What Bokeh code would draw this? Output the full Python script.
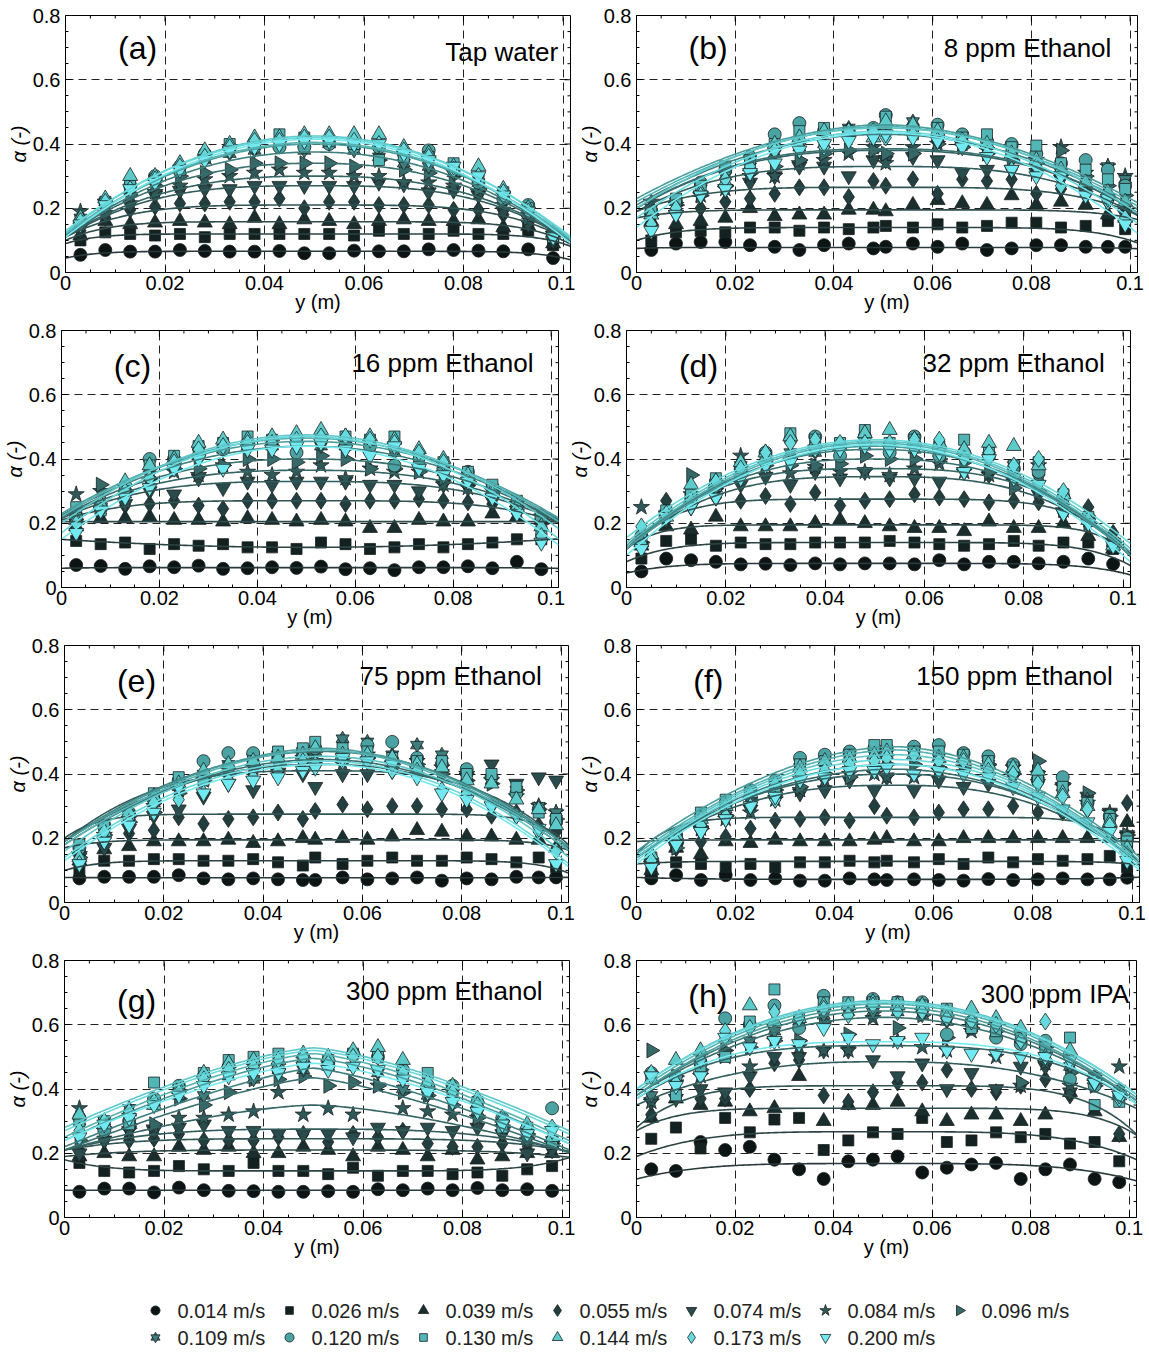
import numpy as np
from bokeh.plotting import figure
from bokeh.models import Range1d, FixedTicker, CustomJSTickFormatter, Label
from bokeh.core.properties import value
from bokeh.layouts import column, row
from bokeh.embed import file_html
from bokeh.resources import INLINE

FONT = "Liberation Sans"

# superficial liquid velocities (legend entries)
SPEEDS = ["0.014 m/s", "0.026 m/s", "0.039 m/s", "0.055 m/s", "0.074 m/s",
          "0.084 m/s", "0.096 m/s", "0.109 m/s", "0.120 m/s", "0.130 m/s",
          "0.144 m/s", "0.173 m/s", "0.200 m/s"]

# measurement positions across the column (m)
Y20 = [0.003, 0.008, 0.013, 0.018, 0.023, 0.028, 0.033, 0.038, 0.043, 0.048,
       0.053, 0.058, 0.063, 0.068, 0.073, 0.078, 0.083, 0.088, 0.093, 0.098]
Y21 = [0.003, 0.008, 0.013, 0.018, 0.023, 0.028, 0.033, 0.038, 0.043, 0.048,
       0.0505, 0.056, 0.061, 0.066, 0.071, 0.076, 0.081, 0.086, 0.091, 0.0955, 0.099]

# ---- (a) tap water: local gas holdup, one row per velocity ----
TAP_ALPHA = [
    [0.055, 0.07, 0.065, 0.065, 0.07, 0.067, 0.065, 0.065, 0.067, 0.06, 0.06, 0.068, 0.066, 0.066, 0.072, 0.07, 0.068, 0.066, 0.072, 0.045],
    [0.10, 0.125, 0.12, 0.115, 0.12, 0.11, 0.12, 0.12, 0.12, 0.12, 0.12, 0.115, 0.13, 0.12, 0.12, 0.13, 0.12, 0.12, 0.13, 0.085],
    [0.115, 0.16, 0.15, 0.155, 0.16, 0.155, 0.15, 0.17, 0.15, 0.165, 0.16, 0.15, 0.16, 0.165, 0.16, 0.16, 0.165, 0.14, 0.145, 0.09],
    [0.13, 0.17, 0.195, 0.205, 0.215, 0.215, 0.22, 0.22, 0.23, 0.20, 0.22, 0.22, 0.21, 0.21, 0.21, 0.195, 0.195, 0.18, 0.15, 0.10],
    [0.14, 0.18, 0.21, 0.24, 0.255, 0.26, 0.26, 0.27, 0.27, 0.27, 0.27, 0.27, 0.28, 0.275, 0.25, 0.255, 0.24, 0.19, 0.15, 0.10],
    [0.19, 0.22, 0.24, 0.25, 0.27, 0.29, 0.30, 0.31, 0.32, 0.31, 0.31, 0.30, 0.30, 0.28, 0.28, 0.27, 0.25, 0.21, 0.17, 0.12],
    [0.15, 0.21, 0.24, 0.27, 0.30, 0.31, 0.32, 0.34, 0.34, 0.34, 0.34, 0.33, 0.35, 0.32, 0.31, 0.30, 0.26, 0.22, 0.17, 0.12],
    [0.17, 0.22, 0.26, 0.29, 0.32, 0.35, 0.37, 0.38, 0.40, 0.38, 0.40, 0.38, 0.36, 0.34, 0.33, 0.31, 0.28, 0.24, 0.18, 0.12],
    [0.15, 0.22, 0.27, 0.30, 0.33, 0.37, 0.39, 0.39, 0.39, 0.39, 0.40, 0.39, 0.39, 0.37, 0.38, 0.32, 0.28, 0.23, 0.21, 0.12],
    [0.16, 0.22, 0.27, 0.29, 0.32, 0.36, 0.40, 0.40, 0.43, 0.42, 0.41, 0.40, 0.35, 0.36, 0.36, 0.34, 0.29, 0.25, 0.20, 0.11],
    [0.17, 0.23, 0.30, 0.30, 0.34, 0.38, 0.40, 0.42, 0.42, 0.43, 0.43, 0.43, 0.43, 0.39, 0.37, 0.33, 0.33, 0.26, 0.20, 0.12],
    [0.16, 0.22, 0.26, 0.29, 0.33, 0.36, 0.39, 0.41, 0.41, 0.42, 0.42, 0.41, 0.40, 0.38, 0.36, 0.32, 0.30, 0.25, 0.19, 0.11],
    [0.15, 0.21, 0.26, 0.28, 0.32, 0.35, 0.38, 0.39, 0.40, 0.41, 0.41, 0.40, 0.40, 0.37, 0.35, 0.33, 0.30, 0.24, 0.19, 0.11],
]
TAP_CENTRE = [0.066, 0.12, 0.158, 0.21, 0.27, 0.30, 0.34, 0.375, 0.40, 0.405, 0.425, 0.42, 0.415]
TAP_WALL = [0.045, 0.09, 0.10, 0.11, 0.11, 0.115, 0.115, 0.115, 0.12, 0.12, 0.125, 0.13, 0.11]
TAP_EXP = [8, 8, 6, 4, 3, 2.5, 2.3, 2.1, 2, 2, 2, 2, 2]

# ---- (b) 8 ppm ethanol ----
E8_ALPHA = [
    [0.07, 0.09, 0.095, 0.095, 0.085, 0.08, 0.07, 0.085, 0.09, 0.075, 0.08, 0.09, 0.08, 0.09, 0.07, 0.075, 0.085, 0.085, 0.08, 0.08, 0.08],
    [0.10, 0.125, 0.13, 0.125, 0.14, 0.14, 0.13, 0.14, 0.135, 0.14, 0.145, 0.14, 0.15, 0.14, 0.145, 0.155, 0.155, 0.14, 0.145, 0.16, 0.135],
    [0.16, 0.15, 0.16, 0.17, 0.20, 0.175, 0.18, 0.18, 0.195, 0.195, 0.19, 0.21, 0.225, 0.215, 0.21, 0.24, 0.21, 0.22, 0.21, 0.18, 0.17],
    [0.18, 0.19, 0.20, 0.22, 0.23, 0.245, 0.265, 0.265, 0.235, 0.285, 0.27, 0.29, 0.245, 0.29, 0.285, 0.29, 0.245, 0.26, 0.25, 0.22, 0.20],
    [0.17, 0.18, 0.24, 0.26, 0.28, 0.30, 0.33, 0.33, 0.30, 0.35, 0.35, 0.36, 0.35, 0.31, 0.32, 0.32, 0.31, 0.29, 0.25, 0.22, 0.18],
    [0.22, 0.21, 0.24, 0.26, 0.30, 0.30, 0.34, 0.35, 0.37, 0.39, 0.34, 0.39, 0.40, 0.40, 0.38, 0.37, 0.35, 0.39, 0.31, 0.33, 0.30],
    [0.18, 0.21, 0.24, 0.27, 0.31, 0.33, 0.35, 0.37, 0.38, 0.38, 0.37, 0.37, 0.40, 0.39, 0.37, 0.35, 0.34, 0.38, 0.30, 0.27, 0.24],
    [0.20, 0.22, 0.26, 0.30, 0.35, 0.37, 0.39, 0.40, 0.45, 0.42, 0.44, 0.47, 0.42, 0.41, 0.40, 0.38, 0.36, 0.31, 0.28, 0.33, 0.29],
    [0.19, 0.22, 0.28, 0.32, 0.36, 0.43, 0.465, 0.44, 0.44, 0.45, 0.49, 0.45, 0.46, 0.43, 0.41, 0.40, 0.37, 0.34, 0.35, 0.32, 0.27],
    [0.19, 0.23, 0.27, 0.33, 0.35, 0.40, 0.44, 0.45, 0.44, 0.44, 0.485, 0.43, 0.45, 0.42, 0.43, 0.39, 0.395, 0.34, 0.32, 0.29, 0.26],
    [0.18, 0.20, 0.25, 0.28, 0.33, 0.40, 0.42, 0.44, 0.44, 0.42, 0.47, 0.46, 0.44, 0.41, 0.40, 0.37, 0.35, 0.32, 0.28, 0.25, 0.22],
    [0.15, 0.20, 0.24, 0.29, 0.33, 0.38, 0.39, 0.39, 0.44, 0.44, 0.42, 0.43, 0.41, 0.41, 0.37, 0.32, 0.33, 0.27, 0.24, 0.22, 0.17],
    [0.13, 0.18, 0.24, 0.26, 0.31, 0.34, 0.38, 0.40, 0.41, 0.42, 0.43, 0.42, 0.41, 0.39, 0.36, 0.32, 0.30, 0.30, 0.24, 0.23, 0.15],
]
E8_CENTRE = [0.078, 0.14, 0.195, 0.265, 0.33, 0.38, 0.385, 0.43, 0.46, 0.455, 0.45, 0.44, 0.435]
E8_WALL = [0.075, 0.10, 0.17, 0.19, 0.19, 0.20, 0.20, 0.21, 0.23, 0.22, 0.20, 0.17, 0.14]
E8_EXP = [10, 6, 6, 4, 3, 2.5, 2.5, 2, 1.8, 1.8, 2, 2, 2]

# ---- (c) 16 ppm ethanol ----
E16_ALPHA = [
    [0.07, 0.067, 0.058, 0.066, 0.063, 0.068, 0.058, 0.06, 0.063, 0.061, 0.065, 0.057, 0.06, 0.054, 0.063, 0.063, 0.066, 0.06, 0.08, 0.057],
    [0.145, 0.135, 0.14, 0.12, 0.135, 0.13, 0.135, 0.125, 0.125, 0.12, 0.14, 0.135, 0.12, 0.125, 0.135, 0.125, 0.135, 0.14, 0.15, 0.15],
    [0.19, 0.215, 0.215, 0.22, 0.21, 0.21, 0.205, 0.215, 0.21, 0.205, 0.21, 0.205, 0.185, 0.185, 0.21, 0.205, 0.205, 0.23, 0.22, 0.21],
    [0.21, 0.23, 0.255, 0.26, 0.27, 0.255, 0.245, 0.27, 0.27, 0.27, 0.27, 0.26, 0.27, 0.27, 0.275, 0.27, 0.265, 0.26, 0.24, 0.22],
    [0.20, 0.24, 0.26, 0.30, 0.29, 0.34, 0.31, 0.33, 0.32, 0.33, 0.33, 0.33, 0.32, 0.32, 0.30, 0.32, 0.31, 0.27, 0.24, 0.20],
    [0.29, 0.30, 0.31, 0.33, 0.36, 0.35, 0.38, 0.36, 0.35, 0.36, 0.38, 0.34, 0.37, 0.36, 0.36, 0.32, 0.31, 0.30, 0.26, 0.22],
    [0.20, 0.32, 0.30, 0.34, 0.37, 0.37, 0.38, 0.40, 0.40, 0.39, 0.41, 0.40, 0.37, 0.37, 0.36, 0.34, 0.33, 0.30, 0.27, 0.21],
    [0.22, 0.25, 0.29, 0.35, 0.39, 0.42, 0.43, 0.44, 0.44, 0.45, 0.44, 0.44, 0.43, 0.42, 0.41, 0.36, 0.34, 0.31, 0.25, 0.22],
    [0.22, 0.26, 0.30, 0.40, 0.40, 0.41, 0.43, 0.45, 0.44, 0.42, 0.46, 0.44, 0.44, 0.38, 0.38, 0.37, 0.36, 0.31, 0.26, 0.22],
    [0.25, 0.24, 0.31, 0.38, 0.41, 0.44, 0.45, 0.47, 0.46, 0.46, 0.47, 0.47, 0.46, 0.47, 0.41, 0.39, 0.36, 0.32, 0.27, 0.18],
    [0.21, 0.26, 0.33, 0.38, 0.40, 0.45, 0.46, 0.46, 0.47, 0.48, 0.49, 0.47, 0.47, 0.46, 0.43, 0.40, 0.35, 0.30, 0.25, 0.19],
    [0.20, 0.24, 0.30, 0.34, 0.39, 0.43, 0.44, 0.45, 0.45, 0.46, 0.47, 0.47, 0.46, 0.45, 0.42, 0.39, 0.33, 0.29, 0.23, 0.16],
    [0.17, 0.24, 0.28, 0.31, 0.37, 0.40, 0.37, 0.43, 0.43, 0.44, 0.45, 0.43, 0.41, 0.44, 0.37, 0.35, 0.33, 0.28, 0.23, 0.14],
]
E16_CENTRE = [0.062, 0.125, 0.205, 0.27, 0.33, 0.365, 0.40, 0.44, 0.455, 0.465, 0.475, 0.47, 0.44]
E16_WALL = [0.06, 0.15, 0.205, 0.21, 0.215, 0.22, 0.22, 0.225, 0.23, 0.22, 0.20, 0.17, 0.15]
E16_EXP = [8, 2, 4, 4, 3, 2.5, 2.3, 2, 2, 2, 2, 2, 2]

# ---- (d) 32 ppm ethanol ----
E32_ALPHA = [
    [0.05, 0.09, 0.085, 0.08, 0.072, 0.074, 0.07, 0.075, 0.072, 0.075, 0.075, 0.072, 0.085, 0.072, 0.08, 0.08, 0.075, 0.08, 0.09, 0.073],
    [0.09, 0.145, 0.15, 0.13, 0.14, 0.135, 0.135, 0.14, 0.14, 0.14, 0.145, 0.14, 0.135, 0.13, 0.135, 0.145, 0.13, 0.14, 0.14, 0.12],
    [0.13, 0.19, 0.18, 0.22, 0.19, 0.19, 0.19, 0.20, 0.21, 0.20, 0.19, 0.185, 0.185, 0.175, 0.205, 0.185, 0.185, 0.20, 0.16, 0.12],
    [0.16, 0.27, 0.26, 0.28, 0.27, 0.285, 0.26, 0.295, 0.255, 0.27, 0.275, 0.29, 0.28, 0.275, 0.265, 0.27, 0.265, 0.23, 0.25, 0.17],
    [0.13, 0.21, 0.25, 0.30, 0.32, 0.345, 0.32, 0.36, 0.34, 0.36, 0.34, 0.34, 0.33, 0.36, 0.35, 0.33, 0.29, 0.23, 0.21, 0.14],
    [0.25, 0.23, 0.29, 0.30, 0.41, 0.38, 0.355, 0.375, 0.36, 0.36, 0.35, 0.37, 0.385, 0.36, 0.35, 0.33, 0.38, 0.24, 0.21, 0.14],
    [0.14, 0.22, 0.35, 0.33, 0.36, 0.38, 0.38, 0.38, 0.385, 0.41, 0.40, 0.40, 0.40, 0.39, 0.36, 0.31, 0.30, 0.24, 0.20, 0.14],
    [0.15, 0.23, 0.28, 0.31, 0.38, 0.40, 0.42, 0.42, 0.44, 0.44, 0.44, 0.43, 0.42, 0.41, 0.41, 0.38, 0.34, 0.27, 0.21, 0.14],
    [0.16, 0.22, 0.28, 0.33, 0.37, 0.42, 0.46, 0.47, 0.41, 0.47, 0.42, 0.47, 0.41, 0.42, 0.41, 0.37, 0.36, 0.28, 0.22, 0.13],
    [0.15, 0.24, 0.29, 0.34, 0.37, 0.41, 0.48, 0.46, 0.45, 0.49, 0.45, 0.46, 0.44, 0.46, 0.42, 0.38, 0.39, 0.29, 0.22, 0.14],
    [0.14, 0.22, 0.32, 0.33, 0.39, 0.42, 0.47, 0.45, 0.44, 0.48, 0.49, 0.46, 0.45, 0.43, 0.45, 0.44, 0.38, 0.29, 0.21, 0.13],
    [0.19, 0.23, 0.27, 0.33, 0.37, 0.42, 0.45, 0.46, 0.45, 0.45, 0.45, 0.46, 0.46, 0.40, 0.42, 0.38, 0.40, 0.30, 0.21, 0.14],
    [0.12, 0.22, 0.25, 0.28, 0.34, 0.38, 0.39, 0.43, 0.43, 0.44, 0.43, 0.43, 0.42, 0.36, 0.40, 0.34, 0.32, 0.23, 0.20, 0.13],
]
E32_CENTRE = [0.075, 0.14, 0.195, 0.275, 0.345, 0.37, 0.40, 0.43, 0.44, 0.45, 0.455, 0.46, 0.445]
E32_WALL = [0.045, 0.08, 0.12, 0.13, 0.12, 0.12, 0.12, 0.12, 0.12, 0.13, 0.14, 0.155, 0.10]
E32_EXP = [6, 6, 8, 5, 3, 3, 2.5, 2.2, 2, 2, 2, 2, 2]

# ---- (e) 75 ppm ethanol ----
E75_ALPHA = [
    [0.075, 0.08, 0.08, 0.08, 0.085, 0.075, 0.072, 0.075, 0.072, 0.07, 0.07, 0.078, 0.072, 0.075, 0.078, 0.068, 0.075, 0.072, 0.08, 0.078, 0.078],
    [0.10, 0.13, 0.13, 0.135, 0.135, 0.13, 0.13, 0.135, 0.125, 0.115, 0.14, 0.12, 0.13, 0.14, 0.13, 0.13, 0.14, 0.135, 0.125, 0.14, 0.11],
    [0.13, 0.165, 0.175, 0.19, 0.19, 0.19, 0.195, 0.185, 0.19, 0.20, 0.195, 0.20, 0.195, 0.205, 0.225, 0.22, 0.205, 0.205, 0.195, 0.195, 0.17],
    [0.13, 0.23, 0.215, 0.225, 0.265, 0.245, 0.26, 0.265, 0.28, 0.26, 0.285, 0.305, 0.29, 0.30, 0.30, 0.29, 0.29, 0.27, 0.28, 0.24, 0.22],
    [0.14, 0.17, 0.23, 0.27, 0.29, 0.33, 0.37, 0.35, 0.40, 0.40, 0.36, 0.40, 0.40, 0.41, 0.41, 0.40, 0.39, 0.43, 0.37, 0.39, 0.38],
    [0.15, 0.21, 0.26, 0.30, 0.35, 0.38, 0.39, 0.42, 0.41, 0.45, 0.44, 0.43, 0.46, 0.43, 0.44, 0.42, 0.40, 0.38, 0.33, 0.30, 0.28],
    [0.14, 0.21, 0.25, 0.28, 0.34, 0.38, 0.40, 0.42, 0.43, 0.44, 0.44, 0.45, 0.45, 0.43, 0.43, 0.40, 0.38, 0.37, 0.35, 0.29, 0.26],
    [0.17, 0.22, 0.27, 0.31, 0.36, 0.40, 0.43, 0.45, 0.46, 0.47, 0.47, 0.51, 0.50, 0.46, 0.49, 0.46, 0.39, 0.38, 0.35, 0.30, 0.28],
    [0.17, 0.24, 0.28, 0.32, 0.38, 0.44, 0.465, 0.465, 0.46, 0.47, 0.48, 0.47, 0.49, 0.50, 0.45, 0.43, 0.415, 0.39, 0.34, 0.29, 0.25],
    [0.18, 0.24, 0.27, 0.34, 0.39, 0.38, 0.42, 0.44, 0.47, 0.48, 0.50, 0.48, 0.47, 0.45, 0.44, 0.44, 0.40, 0.40, 0.36, 0.28, 0.26],
    [0.14, 0.22, 0.28, 0.33, 0.37, 0.41, 0.43, 0.44, 0.45, 0.46, 0.48, 0.46, 0.46, 0.45, 0.43, 0.42, 0.38, 0.37, 0.32, 0.29, 0.24],
    [0.12, 0.22, 0.25, 0.31, 0.32, 0.34, 0.38, 0.39, 0.41, 0.44, 0.43, 0.44, 0.44, 0.41, 0.41, 0.35, 0.34, 0.30, 0.27, 0.22, 0.16],
    [0.12, 0.19, 0.24, 0.28, 0.36, 0.34, 0.37, 0.38, 0.39, 0.41, 0.42, 0.45, 0.44, 0.43, 0.39, 0.34, 0.32, 0.30, 0.27, 0.23, 0.12],
]
E75_CENTRE = [0.077, 0.13, 0.195, 0.275, 0.41, 0.43, 0.445, 0.47, 0.48, 0.475, 0.455, 0.44, 0.43]
E75_WALL = [0.078, 0.10, 0.17, 0.20, 0.19, 0.19, 0.18, 0.19, 0.19, 0.18, 0.16, 0.14, 0.13]
E75_EXP = [8, 8, 8, 8, 3, 2.2, 2, 2, 1.8, 1.8, 2, 2, 2]

# ---- (f) 150 ppm ethanol ----
E150_ALPHA = [
    [0.075, 0.085, 0.07, 0.085, 0.07, 0.075, 0.068, 0.068, 0.075, 0.072, 0.07, 0.072, 0.07, 0.068, 0.073, 0.07, 0.072, 0.075, 0.072, 0.072, 0.077],
    [0.09, 0.125, 0.12, 0.11, 0.12, 0.11, 0.125, 0.125, 0.13, 0.125, 0.13, 0.125, 0.135, 0.12, 0.14, 0.125, 0.135, 0.13, 0.135, 0.145, 0.11],
    [0.10, 0.17, 0.15, 0.19, 0.185, 0.195, 0.19, 0.19, 0.19, 0.195, 0.20, 0.19, 0.19, 0.20, 0.20, 0.20, 0.20, 0.20, 0.20, 0.20, 0.25],
    [0.11, 0.17, 0.19, 0.205, 0.23, 0.255, 0.26, 0.265, 0.255, 0.30, 0.27, 0.265, 0.28, 0.29, 0.29, 0.30, 0.28, 0.28, 0.29, 0.27, 0.31],
    [0.12, 0.17, 0.22, 0.26, 0.29, 0.32, 0.34, 0.35, 0.38, 0.35, 0.39, 0.35, 0.38, 0.36, 0.37, 0.39, 0.37, 0.36, 0.33, 0.28, 0.21],
    [0.12, 0.18, 0.23, 0.26, 0.28, 0.32, 0.35, 0.38, 0.40, 0.40, 0.39, 0.39, 0.41, 0.42, 0.42, 0.42, 0.40, 0.36, 0.31, 0.28, 0.21],
    [0.12, 0.17, 0.23, 0.27, 0.32, 0.35, 0.36, 0.40, 0.39, 0.42, 0.43, 0.43, 0.42, 0.42, 0.43, 0.40, 0.44, 0.37, 0.34, 0.27, 0.21],
    [0.13, 0.19, 0.25, 0.29, 0.32, 0.36, 0.42, 0.44, 0.45, 0.46, 0.46, 0.46, 0.45, 0.45, 0.43, 0.42, 0.40, 0.36, 0.32, 0.25, 0.20],
    [0.13, 0.21, 0.27, 0.31, 0.35, 0.38, 0.45, 0.46, 0.47, 0.48, 0.48, 0.485, 0.49, 0.465, 0.455, 0.43, 0.38, 0.39, 0.31, 0.27, 0.20],
    [0.14, 0.21, 0.28, 0.32, 0.34, 0.36, 0.43, 0.44, 0.46, 0.49, 0.49, 0.47, 0.47, 0.46, 0.44, 0.42, 0.39, 0.36, 0.31, 0.26, 0.19],
    [0.15, 0.21, 0.26, 0.30, 0.34, 0.37, 0.42, 0.44, 0.45, 0.46, 0.47, 0.46, 0.45, 0.45, 0.43, 0.42, 0.41, 0.34, 0.30, 0.25, 0.17],
    [0.13, 0.19, 0.24, 0.27, 0.30, 0.32, 0.40, 0.41, 0.43, 0.44, 0.45, 0.46, 0.44, 0.44, 0.41, 0.40, 0.37, 0.33, 0.29, 0.24, 0.15],
    [0.11, 0.18, 0.22, 0.26, 0.30, 0.33, 0.38, 0.39, 0.41, 0.41, 0.42, 0.40, 0.41, 0.40, 0.39, 0.36, 0.33, 0.29, 0.25, 0.22, 0.13],
]
E150_CENTRE = [0.072, 0.128, 0.195, 0.265, 0.365, 0.40, 0.415, 0.43, 0.485, 0.475, 0.46, 0.445, 0.43]
E150_WALL = [0.078, 0.12, 0.19, 0.15, 0.14, 0.14, 0.14, 0.14, 0.16, 0.15, 0.14, 0.13, 0.12]
E150_EXP = [4, 8, 8, 8, 2.5, 2.2, 2, 2, 1.8, 1.8, 1.9, 2, 2]

# ---- (g) 300 ppm ethanol ----
E300_ALPHA = [
    [0.08, 0.09, 0.09, 0.078, 0.093, 0.085, 0.083, 0.082, 0.08, 0.08, 0.082, 0.08, 0.088, 0.085, 0.09, 0.085, 0.092, 0.085, 0.088, 0.083],
    [0.17, 0.145, 0.14, 0.145, 0.16, 0.15, 0.145, 0.17, 0.145, 0.145, 0.135, 0.155, 0.13, 0.145, 0.145, 0.135, 0.14, 0.13, 0.15, 0.16],
    [0.19, 0.20, 0.19, 0.19, 0.22, 0.21, 0.22, 0.20, 0.20, 0.22, 0.21, 0.19, 0.22, 0.21, 0.19, 0.21, 0.18, 0.19, 0.20, 0.20],
    [0.21, 0.24, 0.24, 0.245, 0.26, 0.24, 0.24, 0.24, 0.25, 0.26, 0.235, 0.26, 0.25, 0.27, 0.23, 0.22, 0.22, 0.23, 0.21, 0.22],
    [0.20, 0.24, 0.27, 0.27, 0.28, 0.29, 0.27, 0.27, 0.26, 0.26, 0.26, 0.25, 0.28, 0.27, 0.28, 0.27, 0.28, 0.26, 0.20, 0.21],
    [0.34, 0.27, 0.27, 0.28, 0.31, 0.31, 0.32, 0.33, 0.39, 0.32, 0.34, 0.32, 0.41, 0.34, 0.33, 0.32, 0.31, 0.28, 0.24, 0.23],
    [0.24, 0.28, 0.29, 0.29, 0.37, 0.35, 0.39, 0.43, 0.43, 0.44, 0.41, 0.42, 0.41, 0.39, 0.38, 0.35, 0.31, 0.28, 0.26, 0.23],
    [0.30, 0.30, 0.34, 0.36, 0.38, 0.38, 0.44, 0.43, 0.46, 0.46, 0.47, 0.47, 0.45, 0.40, 0.38, 0.40, 0.33, 0.30, 0.24, 0.24],
    [0.31, 0.27, 0.30, 0.37, 0.41, 0.44, 0.47, 0.48, 0.46, 0.48, 0.48, 0.51, 0.50, 0.46, 0.41, 0.41, 0.34, 0.31, 0.27, 0.34],
    [0.30, 0.30, 0.29, 0.42, 0.40, 0.45, 0.49, 0.50, 0.51, 0.49, 0.49, 0.51, 0.50, 0.44, 0.45, 0.39, 0.36, 0.28, 0.28, 0.23],
    [0.32, 0.29, 0.33, 0.35, 0.40, 0.45, 0.48, 0.49, 0.49, 0.51, 0.50, 0.52, 0.53, 0.49, 0.42, 0.41, 0.37, 0.31, 0.29, 0.25],
    [0.27, 0.30, 0.33, 0.36, 0.39, 0.43, 0.46, 0.47, 0.49, 0.50, 0.48, 0.50, 0.50, 0.45, 0.42, 0.39, 0.35, 0.30, 0.27, 0.28],
    [0.25, 0.29, 0.31, 0.35, 0.38, 0.41, 0.44, 0.45, 0.45, 0.47, 0.46, 0.47, 0.46, 0.43, 0.39, 0.36, 0.33, 0.29, 0.26, 0.27],
]
E300_CENTRE = [0.085, 0.145, 0.21, 0.245, 0.275, 0.35, 0.435, 0.465, 0.495, 0.51, 0.528, 0.52, 0.48]
E300_WALL = [0.085, 0.18, 0.19, 0.21, 0.21, 0.21, 0.21, 0.22, 0.24, 0.25, 0.28, 0.27, 0.24]
E300_EXP = [8, 6, 4, 4, 3, 1.5, 1.3, 1.3, 1.4, 1.4, 1.4, 1.4, 1.4]

# ---- (h) 300 ppm IPA ----
IPA_ALPHA = [
    [0.15, 0.145, 0.235, 0.21, 0.22, 0.18, 0.15, 0.12, 0.175, 0.18, 0.19, 0.14, 0.155, 0.165, 0.17, 0.12, 0.15, 0.165, 0.12, 0.11],
    [0.245, 0.28, 0.215, 0.31, 0.265, 0.305, 0.31, 0.21, 0.24, 0.265, 0.26, 0.31, 0.235, 0.24, 0.265, 0.25, 0.26, 0.23, 0.235, 0.175],
    [0.31, 0.37, 0.35, 0.36, 0.33, 0.34, 0.44, 0.30, 0.35, 0.35, 0.36, 0.33, 0.30, 0.32, 0.32, 0.30, 0.32, 0.39, 0.33, 0.25],
    [0.32, 0.38, 0.37, 0.37, 0.40, 0.48, 0.49, 0.38, 0.36, 0.39, 0.42, 0.42, 0.46, 0.40, 0.39, 0.41, 0.43, 0.38, 0.43, 0.26],
    [0.36, 0.37, 0.40, 0.39, 0.44, 0.50, 0.50, 0.52, 0.52, 0.49, 0.44, 0.48, 0.40, 0.45, 0.40, 0.47, 0.47, 0.39, 0.43, 0.38],
    [0.36, 0.42, 0.44, 0.50, 0.47, 0.55, 0.53, 0.52, 0.52, 0.62, 0.55, 0.53, 0.52, 0.58, 0.50, 0.41, 0.48, 0.41, 0.42, 0.47],
    [0.52, 0.44, 0.46, 0.52, 0.53, 0.55, 0.55, 0.61, 0.57, 0.64, 0.59, 0.63, 0.56, 0.59, 0.58, 0.42, 0.53, 0.45, 0.41, 0.38],
    [0.38, 0.43, 0.50, 0.51, 0.55, 0.58, 0.60, 0.63, 0.64, 0.64, 0.64, 0.63, 0.61, 0.59, 0.57, 0.56, 0.52, 0.47, 0.44, 0.40],
    [0.45, 0.44, 0.48, 0.62, 0.60, 0.66, 0.59, 0.69, 0.66, 0.68, 0.67, 0.67, 0.57, 0.61, 0.56, 0.54, 0.55, 0.43, 0.41, 0.38],
    [0.44, 0.38, 0.47, 0.50, 0.61, 0.71, 0.62, 0.67, 0.67, 0.67, 0.67, 0.66, 0.65, 0.59, 0.58, 0.56, 0.53, 0.56, 0.35, 0.36],
    [0.43, 0.49, 0.52, 0.56, 0.66, 0.61, 0.62, 0.66, 0.66, 0.67, 0.66, 0.66, 0.64, 0.65, 0.62, 0.59, 0.50, 0.52, 0.43, 0.38],
    [0.45, 0.42, 0.49, 0.58, 0.59, 0.64, 0.62, 0.65, 0.63, 0.66, 0.64, 0.64, 0.62, 0.61, 0.60, 0.55, 0.61, 0.48, 0.42, 0.37],
    [0.44, 0.41, 0.44, 0.56, 0.53, 0.55, 0.54, 0.59, 0.56, 0.54, 0.55, 0.56, 0.52, 0.51, 0.51, 0.50, 0.50, 0.49, 0.42, 0.38],
]
IPA_CENTRE = [0.168, 0.267, 0.34, 0.41, 0.485, 0.535, 0.623, 0.643, 0.655, 0.665, 0.675, 0.67, 0.547]
IPA_WALL = [0.12, 0.19, 0.27, 0.28, 0.35, 0.37, 0.38, 0.38, 0.38, 0.39, 0.40, 0.40, 0.37]
IPA_EXP = [4, 4, 6, 5, 2.5, 3, 2, 2, 2, 2, 2, 2, 3]

PANELS = [
    dict(tag="(a)", name="Tap water", y=Y20, alpha=TAP_ALPHA, centre=TAP_CENTRE, wall=TAP_WALL, expo=TAP_EXP, peak=0.05),
    dict(tag="(b)", name="8 ppm Ethanol", y=Y21, alpha=E8_ALPHA, centre=E8_CENTRE, wall=E8_WALL, expo=E8_EXP, peak=0.05),
    dict(tag="(c)", name="16 ppm Ethanol", y=Y20, alpha=E16_ALPHA, centre=E16_CENTRE, wall=E16_WALL, expo=E16_EXP, peak=0.05),
    dict(tag="(d)", name="32 ppm Ethanol", y=Y20, alpha=E32_ALPHA, centre=E32_CENTRE, wall=E32_WALL, expo=E32_EXP, peak=0.05),
    dict(tag="(e)", name="75 ppm Ethanol", y=Y21, alpha=E75_ALPHA, centre=E75_CENTRE, wall=E75_WALL, expo=E75_EXP, peak=0.052),
    dict(tag="(f)", name="150 ppm Ethanol", y=Y21, alpha=E150_ALPHA, centre=E150_CENTRE, wall=E150_WALL, expo=E150_EXP, peak=0.052),
    dict(tag="(g)", name="300 ppm Ethanol", y=Y20, alpha=E300_ALPHA, centre=E300_CENTRE, wall=E300_WALL, expo=E300_EXP, peak=0.05),
    dict(tag="(h)", name="300 ppm IPA", y=Y20, alpha=IPA_ALPHA, centre=IPA_CENTRE, wall=IPA_WALL, expo=IPA_EXP, peak=0.05),
]

# page geometry of each panel: figure width, left border, right border,
# and placement of the panel tag / name (data units)
BOX = [
    dict(w=575, bl=65, br=5, name_x=0.099, name_y=0.685, tag_y=0.698),
    dict(w=574, bl=58, br=12, name_x=0.0962, name_y=0.70, tag_y=0.698),
    dict(w=565, bl=60, br=7, name_x=0.0964, name_y=0.70, tag_y=0.69),
    dict(w=584, bl=58, br=19, name_x=0.0963, name_y=0.70, tag_y=0.69),
    dict(w=575, bl=64, br=7, name_x=0.0961, name_y=0.704, tag_y=0.69),
    dict(w=574, bl=58, br=10, name_x=0.0961, name_y=0.704, tag_y=0.69),
    dict(w=575, bl=64, br=6, name_x=0.0961, name_y=0.704, tag_y=0.675),
    dict(w=574, bl=57, br=13, name_x=0.1, name_y=0.695, tag_y=0.69),
]

# marker styling per velocity
MARKERS = ["circle", "square", "triangle", "diamond", "inverted_triangle", "star",
           "triangle_right", "hexagram", "circle", "square", "triangle", "diamond",
           "inverted_triangle"]
SIZES = [13, 11, 15, 17, 15, 17, 15, 13, 13, 11, 15, 17, 15]
FILLS = ["#0c1414", "#132121", "#1a2e2e", "#223e3e", "#294b4b", "#2f5858", "#366868",
         "#3f7c7c", "#4aa2a2", "#53b6b6", "#5dcaca", "#67dadd", "#70e9f0"]
LINES = ["#2a3a3a", "#2d4343", "#2f4b4b", "#305353", "#325b5b", "#356464", "#396f6f",
         "#3f7f7f", "#4a9d9d", "#54b3b3", "#5ec7c9", "#68d9dc", "#74eaf0"]
EDGE = "#1a2222"

X_MAX = 0.1015
Y_MAX = 0.8
FRAME_H = 258
CURVE_Y = np.linspace(0.0, X_MAX, 240)


def profile(yv, centre, wall, n, peak):
    """Fitted holdup profile: flat/peaked core decaying toward the walls."""
    eta = np.where(yv < peak, (peak - yv) / peak, (yv - peak) / (0.1 - peak))
    return wall + (centre - wall) * (1.0 - np.abs(eta) ** n)


def add_markers(p, i, xs, ys, scale=1.0):
    kind = MARKERS[i]
    size = SIZES[i] * scale
    style = dict(fill_color=FILLS[i], line_color=EDGE, line_width=0.8)
    if kind == "hexagram":
        p.scatter(xs, ys, marker="triangle", size=size, **style)
        p.scatter(xs, ys, marker="inverted_triangle", size=size, **style)
    elif kind == "triangle_right":
        p.scatter(xs, ys, marker="triangle", angle=-np.pi / 2, size=size, **style)
    else:
        p.scatter(xs, ys, marker=kind, size=size, **style)


tick_fmt = CustomJSTickFormatter(code="return tick === 0 ? '0' : String(Number(tick.toFixed(3)));")
X_TICKS = [0.0, 0.02, 0.04, 0.06, 0.08, 0.1]
X_MINOR = [round(0.005 * k, 3) for k in range(21) if k % 4 != 0]
Y_TICKS = [0.0, 0.2, 0.4, 0.6, 0.8]
Y_MINOR = [round(0.05 * k, 2) for k in range(17) if k % 4 != 0]


def style_axis(ax):
    ax.major_tick_in = 6
    ax.major_tick_out = 0
    ax.minor_tick_in = 3
    ax.minor_tick_out = 0
    ax.axis_line_color = "black"
    ax.major_tick_line_color = "black"
    ax.minor_tick_line_color = "black"
    ax.major_label_text_font = FONT
    ax.major_label_text_font_size = "20px"
    ax.major_label_text_color = "black"
    ax.axis_label_text_font = FONT
    ax.axis_label_text_font_size = "20px"
    ax.axis_label_text_color = "black"


def mirror_ticks(p, frame_w):
    """Inward tick marks along the top and right edges of the frame."""
    dy_major = 6 * Y_MAX / FRAME_H
    dy_minor = 3 * Y_MAX / FRAME_H
    dx_major = 6 * X_MAX / frame_w
    dx_minor = 3 * X_MAX / frame_w
    tx = X_TICKS + X_MINOR
    ty = Y_TICKS + Y_MINOR
    p.segment(x0=tx, x1=tx, y0=[Y_MAX] * len(tx),
              y1=[Y_MAX - (dy_major if t in X_TICKS else dy_minor) for t in tx],
              line_color="black", line_width=1)
    p.segment(y0=ty, y1=ty, x0=[X_MAX] * len(ty),
              x1=[X_MAX - (dx_major if t in Y_TICKS else dx_minor) for t in ty],
              line_color="black", line_width=1)


def make_panel(k, cfg):
    box = BOX[k]
    frame_w = box["w"] - box["bl"] - box["br"]
    p = figure(width=box["w"], height=315,
               x_range=Range1d(0, X_MAX), y_range=Range1d(0, Y_MAX),
               output_backend="svg", toolbar_location=None,
               min_border_left=box["bl"], min_border_right=box["br"],
               min_border_top=15, min_border_bottom=42,
               x_axis_label="y (m)", y_axis_label="α (-)")
    p.background_fill_color = "white"
    p.border_fill_color = "white"
    p.outline_line_color = "black"
    p.outline_line_width = 1

    p.xaxis.ticker = FixedTicker(ticks=X_TICKS, minor_ticks=X_MINOR)
    p.yaxis.ticker = FixedTicker(ticks=Y_TICKS, minor_ticks=Y_MINOR)
    p.xaxis.formatter = tick_fmt
    p.yaxis.formatter = tick_fmt
    for ax in p.xaxis + p.yaxis:
        style_axis(ax)
    p.xaxis.major_label_standoff = 3
    p.xaxis.axis_label_standoff = -2
    p.yaxis.major_label_standoff = 5
    p.yaxis.axis_label_standoff = 0
    p.xaxis.axis_label_text_font_style = "normal"
    p.yaxis.axis_label_text_font_style = "italic"

    p.xgrid.ticker = FixedTicker(ticks=[0.02, 0.04, 0.06, 0.08, 0.1])
    p.ygrid.ticker = FixedTicker(ticks=[0.2, 0.4, 0.6])
    p.grid.grid_line_color = "#222222"
    p.grid.grid_line_dash = "8 5"
    p.grid.grid_line_width = 1

    mirror_ticks(p, frame_w)

    xs = cfg["y"]
    for i in range(len(SPEEDS)):
        add_markers(p, i, xs, cfg["alpha"][i])
    for i in range(len(SPEEDS)):
        curve = profile(CURVE_Y, cfg["centre"][i], cfg["wall"][i], cfg["expo"][i], cfg["peak"])
        p.line(CURVE_Y, curve, line_color=LINES[i], line_width=1.6)

    p.add_layout(Label(x=0.0145, y=box["tag_y"], text=cfg["tag"], text_align="center",
                       text_baseline="middle", text_font=FONT, text_font_size="32px",
                       text_color="black"))
    p.add_layout(Label(x=box["name_x"], y=box["name_y"], text=cfg["name"], text_align="right",
                       text_baseline="middle", text_font=FONT, text_font_size="26px",
                       text_color="black"))
    return p


panels = [make_panel(k, cfg) for k, cfg in enumerate(PANELS)]

# legend strip beneath the panels (pixel-scaled ranges)
LEG_W, LEG_H = 1149, 94
lf = figure(width=LEG_W, height=LEG_H, x_range=Range1d(0, LEG_W), y_range=Range1d(0, LEG_H),
            output_backend="svg", toolbar_location=None, min_border=0,
            x_axis_type=None, y_axis_type=None)
lf.outline_line_color = None
lf.background_fill_color = "white"
lf.border_fill_color = "white"

LEG_X0, LEG_DX, LEG_TEXT_DX = 155, 134, 22
LEG_ROWS_Y = [44, 17]
for i, lab in enumerate(SPEEDS):
    r, c = divmod(i, 7)
    gx = LEG_X0 + c * LEG_DX
    gy = LEG_ROWS_Y[r]
    add_markers(lf, i, [gx], [gy], scale=0.7)
    lf.text([gx + LEG_TEXT_DX], [gy], text=[lab], text_font=value(FONT),
            text_font_size="20px", text_color="#222222", text_baseline="middle",
            text_align="left")

layout = column(row(panels[0], panels[1]), row(panels[2], panels[3]),
                row(panels[4], panels[5]), row(panels[6], panels[7]), lf)

with open("out.html", "w") as f:
    f.write(file_html(layout, INLINE))
